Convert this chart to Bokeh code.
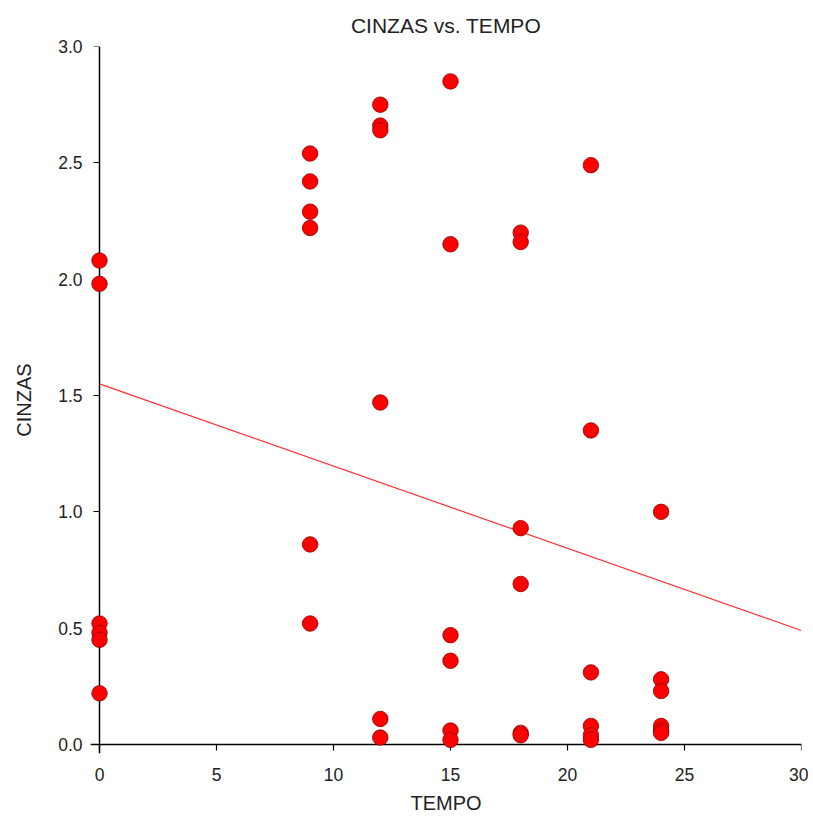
from bokeh.plotting import figure
from bokeh.models import Range1d, FixedTicker, CustomJSTickFormatter, LinearAxis
from bokeh.embed import file_html
from bokeh.resources import INLINE

tempo = [0, 0, 0, 0, 0, 0,
         9, 9, 9, 9, 9, 9,
         12, 12, 12, 12, 12, 12,
         15, 15, 15, 15, 15, 15,
         18, 18, 18, 18, 18, 18,
         21, 21, 21, 21, 21, 21,
         24, 24, 24, 24, 24, 24]
cinzas = [2.08, 1.98, 0.52, 0.48, 0.45, 0.22,
          2.54, 2.42, 2.29, 2.22, 0.86, 0.52,
          2.75, 2.66, 2.64, 1.47, 0.11, 0.03,
          2.85, 2.15, 0.47, 0.36, 0.06, 0.02,
          2.20, 2.16, 0.93, 0.69, 0.05, 0.04,
          2.49, 1.35, 0.31, 0.08, 0.04, 0.02,
          1.00, 0.28, 0.23, 0.08, 0.06, 0.05]
fit_x = [0, 30]
fit_y = [1.55, 0.49]
x_ticks = [0, 5, 10, 15, 20, 25, 30]
y_ticks = [0.0, 0.5, 1.0, 1.5, 2.0, 2.5, 3.0]

FONT = "Liberation Sans"

p = figure(width=808, height=816, output_backend="svg", toolbar_location=None,
           x_range=Range1d(-0.385, 30), y_range=Range1d(-0.0386, 3.0),
           title="CINZAS vs. TEMPO",
           min_border_left=90, min_border_right=7, min_border_top=46, min_border_bottom=62)
p.title.align = "center"
p.title.vertical_align = "top"
p.title.text_font = FONT
p.title.text_font_size = "21px"
p.title.text_font_style = "normal"
p.title.text_color = "#222222"
p.title.standoff = 16
p.outline_line_color = None
p.grid.visible = False

# label-only axes at the frame edge
for ax in (p.xaxis, p.yaxis):
    ax.axis_line_color = None
    ax.major_tick_line_color = None
    ax.minor_tick_line_color = None
    ax.major_label_text_font = FONT
    ax.major_label_text_font_size = "17.5px"
    ax.major_label_text_color = "#222222"
    ax.axis_label_text_font = FONT
    ax.axis_label_text_font_size = "20px"
    ax.axis_label_text_font_style = "normal"
    ax.axis_label_text_color = "#222222"

p.xaxis.ticker = FixedTicker(ticks=x_ticks)
p.yaxis.ticker = FixedTicker(ticks=y_ticks)
p.yaxis.formatter = CustomJSTickFormatter(code="return tick.toFixed(1);")
p.xaxis.axis_label = "TEMPO"
p.yaxis.axis_label = "CINZAS"
p.xaxis.major_label_standoff = 8
p.yaxis.major_label_standoff = 2
p.xaxis.axis_label_standoff = 8
p.yaxis.axis_label_standoff = 20

# axis lines and ticks at the data origin, drawn beneath the points
def line_axis(ticks):
    a = LinearAxis(ticker=FixedTicker(ticks=ticks), fixed_location=0, level="underlay",
                   formatter=CustomJSTickFormatter(code="return '';"),
                   axis_line_color="black", axis_line_width=1.5,
                   major_tick_line_color="black", major_tick_line_width=1.2,
                   major_tick_in=6, major_tick_out=0, minor_tick_line_color=None,
                   major_label_standoff=0)
    return a

p.add_layout(line_axis(x_ticks), "above")
p.add_layout(line_axis(y_ticks), "right")

p.line(fit_x, fit_y, line_color="#ff3030", line_width=1.2)
p.scatter(tempo, cinzas, size=15.5, fill_color="#ff0000", line_color="#8b0000", line_width=0.8)

open("out.html", "w").write(file_html(p, INLINE))
